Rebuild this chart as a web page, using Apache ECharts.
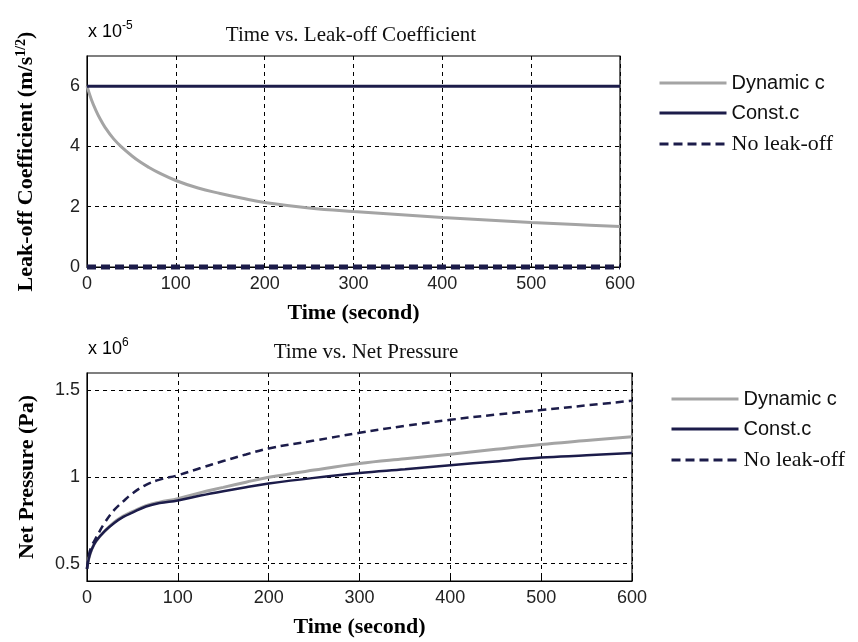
<!DOCTYPE html>
<html>
<head>
<meta charset="utf-8">
<script src="https://cdn.jsdelivr.net/npm/echarts@6/dist/echarts.min.js"></script>
<style>
html,body{margin:0;padding:0;background:#fff;}
#c{width:858px;height:642px;}
</style>
</head>
<body>
<div id="c"></div>
<script>
// ---- Data ----
// Top panel: leak-off coefficient, units of 1e-5 m/s^(1/2)
const timeTop = [0,5,10,15,20,30,40,50,60,70,80,100,125,150,175,200,250,300,350,400,450,500,550,600];
const dynamicTop = [6.0,5.55,5.2,4.9,4.65,4.25,3.95,3.7,3.48,3.3,3.14,2.87,2.62,2.44,2.28,2.14,1.96,1.84,1.74,1.64,1.56,1.48,1.41,1.34];
const timeFlat = [0,600];
const constTop = [6,6];
const noLeakTop = [0,0];

// Bottom panel: net pressure, units of 1e6 Pa
const timeBot = [0,2,5,10,20,30,40,50,65,80,100,125,150,175,200,250,300,350,400,450,500,550,600];
const dynamicBot = [0.47,0.53,0.58,0.63,0.69,0.74,0.775,0.80,0.835,0.855,0.875,0.91,0.94,0.97,0.998,1.04,1.078,1.105,1.131,1.16,1.188,1.21,1.232];
const constBot = [0.47,0.53,0.58,0.63,0.69,0.735,0.77,0.795,0.83,0.85,0.865,0.893,0.918,0.941,0.962,0.995,1.023,1.045,1.068,1.09,1.112,1.125,1.139];
const noLeakBot = [0.47,0.55,0.60,0.65,0.74,0.81,0.86,0.905,0.955,0.985,1.01,1.052,1.092,1.13,1.165,1.21,1.255,1.295,1.33,1.36,1.386,1.413,1.44];

const xTicks = [0,100,200,300,400,500,600];
const yTicksTop = [0,2,4,6];
const yTicksBot = [0.5,1,1.5];
const names = ['Dynamic c','Const.c','No leak-off'];

const pair = (xs, ys) => xs.map((x,i)=>[x, ys[i]]);

const GRAY = '#a4a4a4';
const NAVY = '#1c1c4a';
const SANS = '"Liberation Sans", Arial, sans-serif';
const SERIF = '"Liberation Serif", "Times New Roman", serif';

const chart = echarts.init(document.getElementById('c'), null, {renderer:'canvas'});

function xAxisOf(gi){
  return {
    gridIndex: gi, type:'value', min:0, max:600, interval:100,
    name:'Time (second)', nameLocation:'middle', nameGap:35,
    nameTextStyle:{fontFamily:SERIF, fontWeight:'bold', fontSize:22, color:'#000'},
    axisLine:{show:true, lineStyle:{color:'#000', width:1}},
    axisTick:{show:true, inside:true, length:4, lineStyle:{color:'#000'}, customValues: xTicks},
    axisLabel:{fontFamily:SANS, fontSize:18, color:'#222', margin:8, customValues: xTicks},
    splitLine:{show:true, lineStyle:{color:'#000', type:[4,4], width:1}}
  };
}

const gridLine = {show:true, lineStyle:{color:'#000', type:[4,4], width:1}};

function legendOf(left, top){
  return {data:names, orient:'vertical', left:left, top:top, itemWidth:67, itemHeight:14, itemGap:10,
     selectedMode:false,
     itemStyle:{opacity:0},
     lineStyle:{width:3},
     textStyle:{fontFamily:SANS, fontSize:20, color:'#111', rich:{s:{fontFamily:SERIF, fontSize:22, color:'#111'}}},
     formatter: n => n==='No leak-off' ? '{s|No leak-off}' : n};
}

const option = {
  backgroundColor:'#fff',
  animation:false,
  title:[
    {text:'Time vs. Leak-off Coefficient', left:346, top:20, textAlign:'center',
     textStyle:{fontFamily:SERIF, fontWeight:'normal', fontSize:21, color:'#111'}},
    {text:'Time vs. Net Pressure', left:361, top:337, textAlign:'center',
     textStyle:{fontFamily:SERIF, fontWeight:'normal', fontSize:21, color:'#111'}}
  ],
  grid:[
    {left:87, top:56, width:533, height:211, show:true, borderColor:'#000', borderWidth:1.2, backgroundColor:'#fff', containLabel:false},
    {left:87, top:373, width:545, height:208, show:true, borderColor:'#000', borderWidth:1.2, backgroundColor:'#fff', containLabel:false}
  ],
  xAxis:[ xAxisOf(0), xAxisOf(1) ],
  yAxis:[
    {gridIndex:0, type:'value', min:0, max:7, interval:2,
     name:'{b|Leak-off Coefficient (m/s}{sup|1/2}{b|)}', nameLocation:'middle', nameGap:49,
     nameTextStyle:{rich:{
       b:{fontFamily:SERIF, fontWeight:'bold', fontSize:22, color:'#000'},
       sup:{fontFamily:SERIF, fontWeight:'bold', fontSize:14, color:'#000', padding:[0,0,10,0]}
     }},
     axisLine:{show:true, lineStyle:{color:'#000'}},
     axisTick:{show:true, inside:true, length:4, lineStyle:{color:'#000'}, customValues: yTicksTop},
     axisLabel:{fontFamily:SANS, fontSize:18, color:'#222', margin:7, customValues: yTicksTop},
     splitLine: gridLine},
    {gridIndex:1, type:'value', min:0.4, max:1.6,
     name:'Net Pressure (Pa)', nameLocation:'middle', nameGap:49,
     nameTextStyle:{fontFamily:SERIF, fontWeight:'bold', fontSize:22, color:'#000'},
     axisLine:{show:true, lineStyle:{color:'#000'}},
     axisTick:{show:true, inside:true, length:4, lineStyle:{color:'#000'}, customValues: yTicksBot},
     axisLabel:{fontFamily:SANS, fontSize:18, color:'#222', margin:7, customValues: yTicksBot},
     splitLine: gridLine}
  ],
  legend:[ legendOf(653, 68), legendOf(665, 384) ],
  graphic:[
    {type:'text', left:88, top:20, style:{text:'{a|x 10}{s|-5}', rich:{
      a:{fontFamily:SANS, fontSize:18, color:'#222'},
      s:{fontFamily:SANS, fontSize:12, color:'#222', padding:[0,0,12,0]}}}},
    {type:'text', left:88, top:337, style:{text:'{a|x 10}{s|6}', rich:{
      a:{fontFamily:SANS, fontSize:18, color:'#222'},
      s:{fontFamily:SANS, fontSize:12, color:'#222', padding:[0,0,12,0]}}}}
  ],
  series:[
    {name:'Dynamic c', type:'line', xAxisIndex:0, yAxisIndex:0, data:pair(timeTop, dynamicTop),
     symbol:'none', smooth:0.4, lineStyle:{color:GRAY, width:3}, itemStyle:{color:GRAY}, z:3},
    {name:'Const.c', type:'line', xAxisIndex:0, yAxisIndex:0, data:pair(timeFlat, constTop),
     symbol:'none', lineStyle:{color:NAVY, width:3}, itemStyle:{color:NAVY}, z:4},
    {name:'No leak-off', type:'line', xAxisIndex:0, yAxisIndex:0, data:pair(timeFlat, noLeakTop),
     symbol:'none', clip:false, lineStyle:{color:NAVY, width:5, type:[9,5]}, itemStyle:{color:NAVY}, z:10, zlevel:1},
    {name:'Dynamic c', type:'line', xAxisIndex:1, yAxisIndex:1, data:pair(timeBot, dynamicBot),
     symbol:'none', smooth:0.4, lineStyle:{color:GRAY, width:3}, itemStyle:{color:GRAY}, z:3},
    {name:'Const.c', type:'line', xAxisIndex:1, yAxisIndex:1, data:pair(timeBot, constBot),
     symbol:'none', smooth:0.4, lineStyle:{color:NAVY, width:2.5}, itemStyle:{color:NAVY}, z:4},
    {name:'No leak-off', type:'line', xAxisIndex:1, yAxisIndex:1, data:pair(timeBot, noLeakBot),
     symbol:'none', smooth:0.4, lineStyle:{color:NAVY, width:2.5, type:[8,5]}, itemStyle:{color:NAVY}, z:5}
  ]
};
chart.setOption(option);
</script>
</body>
</html>
